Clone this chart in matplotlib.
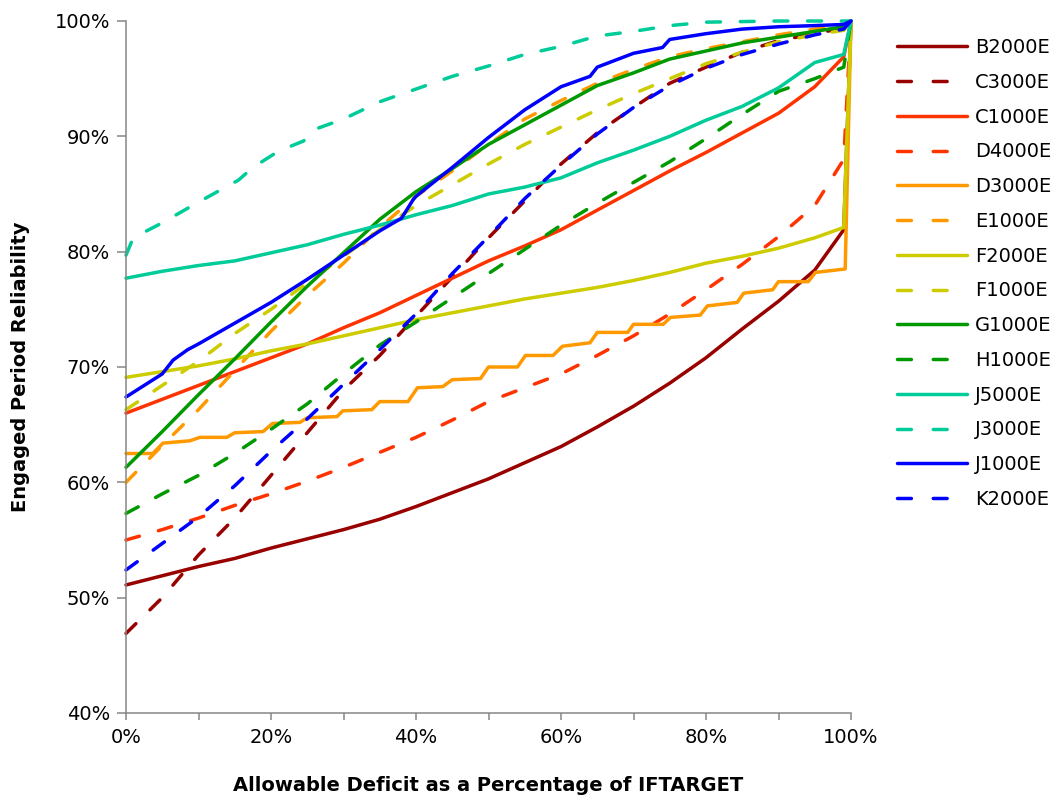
import matplotlib
matplotlib.use("Agg")
import matplotlib.pyplot as plt
from matplotlib.ticker import FuncFormatter, MultipleLocator

# ---------------- data (x in % of IFTARGET, y in % reliability) ----------------
X = [0, 5, 10, 15, 20, 25, 30, 35, 40, 45, 50, 55, 60, 65, 70, 75, 80, 85, 90, 95, 99, 100]

B2000E = [51.1, 51.9, 52.7, 53.4, 54.3, 55.1, 55.9, 56.8, 57.9, 59.1, 60.3, 61.7, 63.1, 64.8, 66.6, 68.6, 70.8, 73.3, 75.7, 78.4, 81.9, 100]
C3000E = [46.9, 50.0, 53.7, 56.9, 60.6, 64.3, 68.0, 71.0, 74.4, 77.8, 81.2, 84.4, 87.6, 90.3, 92.5, 94.6, 96.0, 97.3, 98.3, 98.9, 99.4, 100]
C1000E = [66.0, 67.2, 68.4, 69.6, 70.8, 72.0, 73.4, 74.7, 76.2, 77.7, 79.2, 80.5, 81.9, 83.6, 85.3, 87.0, 88.6, 90.3, 92.0, 94.3, 96.9, 100]
D4000E = [55.0, 55.9, 56.9, 58.0, 59.0, 60.1, 61.3, 62.6, 63.9, 65.4, 67.0, 68.2, 69.4, 71.0, 72.7, 74.6, 76.7, 78.9, 81.3, 84.0, 88.0, 100]
E1000E = [60.0, 63.2, 66.3, 69.7, 73.1, 76.2, 79.0, 82.1, 84.8, 87.0, 89.3, 91.5, 93.1, 94.6, 95.8, 96.9, 97.6, 98.2, 98.8, 99.3, 99.5, 100]
F2000E = [69.1, 69.6, 70.1, 70.7, 71.4, 72.0, 72.7, 73.4, 74.1, 74.7, 75.3, 75.9, 76.4, 76.9, 77.5, 78.2, 79.0, 79.6, 80.3, 81.2, 82.1, 100]
F1000E = [66.3, 68.4, 70.5, 72.9, 75.0, 77.3, 79.6, 81.9, 84.0, 85.8, 87.6, 89.3, 90.8, 92.3, 93.7, 95.0, 96.3, 97.3, 98.2, 98.8, 99.2, 100]
G1000E = [61.3, 64.4, 67.6, 70.7, 73.9, 77.0, 79.9, 82.8, 85.2, 87.2, 89.3, 91.0, 92.7, 94.4, 95.5, 96.7, 97.4, 98.1, 98.6, 99.1, 99.5, 100]
H1000E = [57.3, 59.0, 60.6, 62.5, 64.6, 66.8, 69.4, 71.9, 73.9, 76.0, 78.1, 80.2, 82.3, 84.2, 86.0, 87.8, 89.8, 91.9, 93.9, 95.0, 96.0, 100]
J5000E = [77.7, 78.3, 78.8, 79.2, 79.9, 80.6, 81.5, 82.3, 83.2, 84.0, 85.0, 85.6, 86.4, 87.7, 88.8, 90.0, 91.4, 92.6, 94.2, 96.4, 97.1, 100]
K2000E = [52.4, 54.7, 57.0, 59.7, 62.7, 65.5, 68.5, 71.5, 74.6, 78.1, 81.3, 84.6, 87.5, 90.2, 92.5, 94.4, 95.9, 97.1, 98.0, 98.8, 99.3, 100]

D3000E_x = [0, 3.7, 5.1, 8.8, 10.2, 13.9, 15.0, 18.9, 20.2, 24.0, 25.0, 29.1, 29.9, 33.9, 35.0,
            38.9, 40.2, 43.7, 45.0, 48.9, 50.0, 54.0, 55.1, 58.9, 60.2, 64.0, 65.0, 69.2, 70.0,
            74.1, 75.1, 79.2, 80.2, 84.3, 85.2, 89.2, 90.0, 94.1, 95.1, 99.2, 100]
D3000E = [62.5, 62.5, 63.4, 63.6, 63.9, 63.9, 64.3, 64.4, 65.1, 65.2, 65.6, 65.7, 66.2, 66.3, 67.0,
          67.0, 68.2, 68.3, 68.9, 69.0, 70.0, 70.0, 71.0, 71.0, 71.8, 72.1, 73.0, 73.0, 73.7,
          73.7, 74.3, 74.5, 75.3, 75.6, 76.4, 76.7, 77.4, 77.4, 78.2, 78.5, 100]

J3000E_x = [0, 1, 5, 10, 15.5, 17.5, 21, 24.5, 26, 30, 35, 40, 45, 50, 55, 60, 65, 70, 75, 80, 90, 100]
J3000E = [79.7, 81.2, 82.5, 84.3, 86.2, 87.3, 88.7, 89.6, 90.6, 91.5, 93.0, 94.1, 95.2, 96.1, 97.1, 97.8, 98.7, 99.1, 99.6, 99.9, 100, 100]

J1000E_x = [0, 5, 6.5, 8.5, 10, 15, 20, 25, 30, 35, 38, 39.6, 40, 45, 50, 55, 60, 64, 65, 70, 74, 75, 80, 85, 90, 95, 99, 100]
J1000E = [67.4, 69.4, 70.6, 71.5, 72.0, 73.8, 75.6, 77.6, 79.7, 81.8, 82.9, 84.5, 84.8, 87.3, 89.9, 92.3, 94.3, 95.2, 96.0, 97.2, 97.7, 98.4, 98.9, 99.3, 99.5, 99.6, 99.7, 100]

labels = ["B2000E", "C3000E", "C1000E", "D4000E", "D3000E", "E1000E", "F2000E",
          "F1000E", "G1000E", "H1000E", "J5000E", "J3000E", "J1000E", "K2000E"]
xs = [X, X, X, X, D3000E_x, X, X, X, X, X, X, J3000E_x, J1000E_x, X]
ys = [B2000E, C3000E, C1000E, D4000E, D3000E, E1000E, F2000E,
      F1000E, G1000E, H1000E, J5000E, J3000E, J1000E, K2000E]
colors = ["#990000", "#990000", "#FF3300", "#FF3300", "#FF9900", "#FF9900", "#CCCC00",
          "#CCCC00", "#009900", "#009900", "#00CC99", "#00CC99", "#0000FF", "#0000FF"]
dashed = [False, True] * 7

# ---------------- figure ----------------
plt.rcParams['font.family'] = ['DejaVu Sans']
fig = plt.figure(figsize=(10.6, 8.01), dpi=100)
ax = fig.add_axes([126 / 1060, 1 - 713 / 801, (851 - 126) / 1060, (713 - 21) / 801])

for x, y, c, d, lab in zip(xs, ys, colors, dashed, labels):
    if d:
        ax.plot(x, y, color=c, lw=2.5, dashes=(4.0, 5.7), dash_capstyle='round',
                solid_joinstyle='round', label=lab, clip_on=False)
    else:
        ax.plot(x, y, color=c, lw=2.5, solid_capstyle='round', solid_joinstyle='round',
                label=lab, clip_on=False)

ax.set_xlim(0, 100)
ax.set_ylim(40, 100)
ax.xaxis.set_major_locator(MultipleLocator(20))
ax.xaxis.set_minor_locator(MultipleLocator(10))
ax.yaxis.set_major_locator(MultipleLocator(10))
pct = FuncFormatter(lambda v, p: f"{v:.0f}%")
ax.xaxis.set_major_formatter(pct)
ax.yaxis.set_major_formatter(pct)

for s in ["top", "right"]:
    ax.spines[s].set_visible(False)
for s in ["left", "bottom"]:
    ax.spines[s].set_color("#868686")
    ax.spines[s].set_linewidth(1.1)

ax.tick_params(axis='y', which='major', direction='out', length=6.5, width=1.1,
               color="#868686", labelsize=14, pad=5)
ax.tick_params(axis='x', which='both', direction='out', length=5, width=1.1,
               color="#868686", labelsize=14, pad=6)

ax.set_xlabel("Allowable Deficit as a Percentage of IFTARGET", fontsize=14,
              fontweight='bold', labelpad=21)
ax.set_ylabel("Engaged Period Reliability", fontsize=14, fontweight='bold', labelpad=18)

leg = ax.legend(loc='center left', bbox_to_anchor=(897 / 1060, 1 - 273.5 / 801),
                bbox_transform=fig.transFigure, frameon=False, fontsize=14,
                handlelength=3.6, handletextpad=0.4, labelspacing=0.81,
                borderpad=0, borderaxespad=0)
for ln, d in zip(leg.get_lines(), dashed):
    if d:
        ln.set_dashes((4.0, 6.3))

fig.savefig("out.png", dpi=100)
